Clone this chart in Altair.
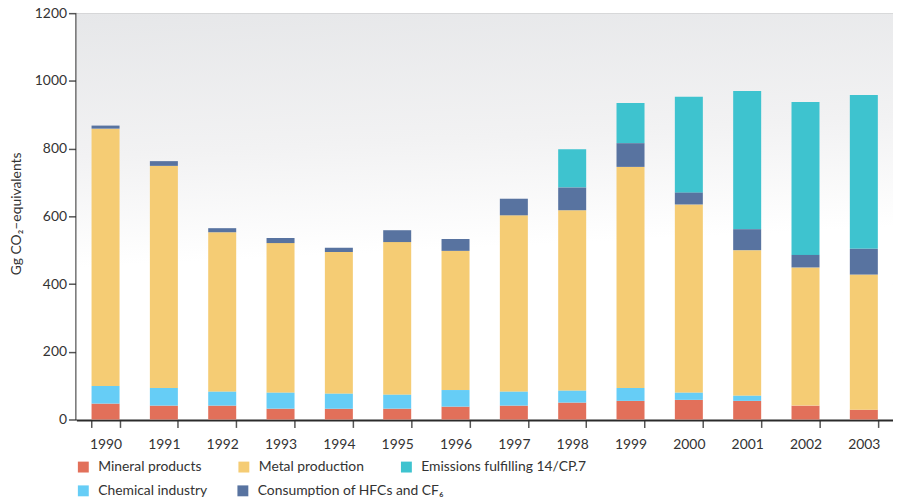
import altair as alt
import pandas as pd

# values (Gg CO2-equivalents)
years = [str(y) for y in range(1990, 2004)]
mineral = [47, 41, 41, 32, 32, 32, 38, 41, 50, 55, 58, 55, 41, 29]
chemical = [52, 52, 41, 47, 44, 41, 49, 41, 35, 38, 21, 15, 0, 0]
metal = [760, 656, 471, 442, 419, 451, 411, 521, 533, 653, 556, 430, 408, 399]
hfcs = [9, 14, 12, 15, 12, 35, 35, 49, 67, 70, 35, 62, 37, 76]
emissions = [0, 0, 0, 0, 0, 0, 0, 0, 113, 119, 283, 408, 452, 454]

# legend rows and their colours
row1 = ["Mineral products", "Metal production", "Emissions fulfilling 14/CP.7"]
row1_colours = ["#e2705a", "#f5cc74", "#3ec3cf"]
row2 = ["Chemical industry", "Consumption of HFCs and CF₆"]
row2_colours = ["#66cdf6", "#5873a0"]

# stacking order, bottom to top
series = [
    ("Mineral products", mineral),
    ("Chemical industry", chemical),
    ("Metal production", metal),
    ("Consumption of HFCs and CF₆", hfcs),
    ("Emissions fulfilling 14/CP.7", emissions),
]

rows = []
for order, (name, values) in enumerate(series):
    for year, v in zip(years, values):
        if v > 0:
            rows.append({"year": year, "category": name, "value": v, "order": order})
source = pd.DataFrame(rows)

W, H = 824, 410
font = "Lato"
text_colour = "#333333"

# grey-to-white wash behind the plot area
backdrop = alt.Chart(pd.DataFrame({"k": [0]})).mark_rect(
    color=alt.LinearGradient(
        gradient="linear",
        stops=[
            alt.GradientStop(offset=0, color="#e6e7e9"),
            alt.GradientStop(offset=0.35, color="#f2f2f3"),
            alt.GradientStop(offset=0.62, color="#ffffff"),
        ],
        x1=0,
        y1=0,
        x2=0.1,
        y2=1,
    )
).encode(x=alt.value(0), x2=alt.value(W), y=alt.value(0), y2=alt.value(H))

x_enc = alt.X(
    "year:O",
    title=None,
    scale=alt.Scale(paddingInner=0.52, paddingOuter=0.26),
    axis=alt.Axis(
        labelAngle=0,
        tickBand="extent",
        tickSize=8,
        tickColor="#555555",
        tickWidth=1.5,
        labelPadding=10,
        domainColor="#2b2b2b",
        domainWidth=3,
        grid=False,
    ),
)
y_enc = alt.Y(
    "y0:Q",
    title="Gg CO₂–equivalents",
    scale=alt.Scale(domain=[0, 1200]),
    axis=alt.Axis(
        values=[0, 200, 400, 600, 800, 1000, 1200],
        format="d",
        tickSize=8,
        tickColor="#555555",
        tickWidth=1.5,
        labelPadding=2,
        domainColor="#2b2b2b",
        domainWidth=3,
        gridColor="#a5a5a5",
        gridWidth=1.5,
        titleX=-60,
        titleY=202,
        titleAngle=270,
        titleAlign="center",
        titleBaseline="middle",
        titleFontWeight="normal",
    ),
)


def legend_at(y, cols, gap):
    return alt.Legend(
        title=None,
        orient="none",
        direction="horizontal",
        legendX=0,
        legendY=y,
        columns=cols,
        columnPadding=gap,
        symbolType="square",
        symbolSize=121,
        symbolStrokeWidth=0,
        symbolOpacity=1,
        labelOffset=8,
        labelFontSize=14,
        labelFont=font,
        labelColor=text_colour,
        labelLimit=300,
    )


# stack all five series once, then draw each legend row's series as its own layer
stacked = alt.Chart(source).transform_stack(
    stack="value",
    as_=["y0", "y1"],
    groupby=["year"],
    sort=[alt.SortField("order", order="ascending")],
    offset="zero",
)

bars1 = stacked.transform_filter(
    alt.FieldOneOfPredicate(field="category", oneOf=row1)
).mark_bar().encode(
    x_enc,
    y_enc,
    alt.Y2("y1:Q"),
    alt.Color(
        "category:N",
        scale=alt.Scale(domain=row1, range=row1_colours),
        legend=legend_at(451, 3, 35),
    ),
)

bars2 = stacked.transform_filter(
    alt.FieldOneOfPredicate(field="category", oneOf=row2)
).mark_bar().encode(
    x_enc,
    y_enc,
    alt.Y2("y1:Q"),
    alt.Color(
        "category:N",
        scale=alt.Scale(domain=row2, range=row2_colours),
        legend=legend_at(475, 2, 28),
    ),
)

chart = alt.layer(backdrop, bars1, bars2).resolve_scale(
    color="independent"
).properties(
    width=W,
    height=H,
    padding={"left": 69, "top": 3, "right": 0, "bottom": 77},
    autosize=alt.AutoSizeParams(type="none"),
).configure_axis(
    labelFont=font,
    labelFontSize=14,
    labelColor=text_colour,
    titleFont=font,
    titleFontSize=14,
    titleColor=text_colour,
).configure_view(
    strokeWidth=0,
)

chart.save("out.html", embed_options={"renderer": "svg", "actions": False})
